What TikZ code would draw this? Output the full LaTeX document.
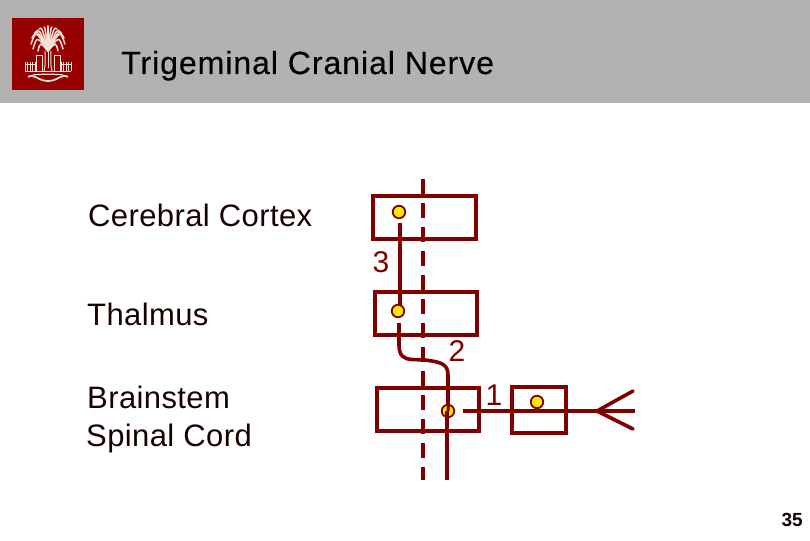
\documentclass[tikz,border=0pt]{standalone}
\usepackage{fontspec}
\setmainfont{Liberation Sans}
\newfontfamily\titlefont[LetterSpace=3,FakeBold=0.25]{Liberation Sans}
\newfontfamily\labfont[LetterSpace=1.3]{Liberation Sans}
\definecolor{garnet}{RGB}{128,0,0}
\definecolor{logored}{RGB}{150,0,0}
\definecolor{headgray}{RGB}{178,178,178}
\definecolor{logocream}{RGB}{245,225,215}
\tikzset{
  x=1pt,y=-1pt,
  cell/.style={draw=garnet,line width=4pt,fill=none,minimum size=0pt,inner sep=0pt},
  nerve/.style={draw=garnet,line width=3.6pt},
  midline/.style={draw=garnet,line width=3.8pt,dash pattern=on 15pt off 9pt},
  soma/.style={circle,draw=garnet,fill=yellow!90!orange,line width=1.8pt,minimum size=12.5pt,inner sep=0pt},
  lab/.style={font=\labfont\fontsize{31}{34}\selectfont,text=black!80!garnet,inner sep=0pt,anchor=base west},
  numlab/.style={font=\labfont\fontsize{30}{34}\selectfont,text=garnet,inner sep=0pt,anchor=base},
  logoline/.style={draw=logocream,line width=1.5pt,line cap=round},
  logothin/.style={draw=logocream,line width=1pt},
}
\begin{document}
\begin{tikzpicture}
\useasboundingbox (0,0) rectangle (810,540);
\fill[white] (0,0) rectangle (810,540);
\fill[headgray] (0,0) rectangle (810,103);
% logo
\fill[logored] (12,18) rectangle (84,90);
\foreach \ex/\ey/\cx/\cy in {31/44/36/30, 32/38/37/29, 35/33/39/28, 39/29/42/27, 44/27/45/27, 48/26/48/27, 52/27/51/27, 57/29/54/27, 61/33/57/28, 64/38/59/29, 65/44/60/30, 33/49/37/36, 63/49/59/36, 38/51/40/42, 58/51/56/42}{
  \draw[logoline] (48,51) .. controls (\cx,\cy) .. (\ex,\ey);
}
\draw[logothin] (45,51) .. controls (45,58) and (46,62) .. (44,71);
\draw[logothin] (51,51) .. controls (51,58) and (50,62) .. (52,71);
\draw[logothin] (48,52) -- (48,68);
\foreach \x in {25,27.5,30,32.5,35,61,63.5,66,68.5,71}{\draw[logothin] (\x,62) -- (\x,71);}
\draw[logothin] (25,65) -- (35,65) (61,65) -- (71,65);
\draw[logothin] (36,72) -- (36,56) -- (42,56) -- (42,72) (54,72) -- (54,56) -- (60,56) -- (60,72);
\draw[logothin] (25,71.5) -- (71,71.5);
\draw[draw=logocream,line width=1.7pt] (28,77) .. controls (34,73) and (38,81) .. (48,81) .. controls (58,81) and (62,73) .. (68,77);
\draw[draw=logocream,line width=1.2pt] (33,75) .. controls (38,74) and (58,74) .. (63,75);
% title
\node[font=\titlefont\fontsize{32}{35}\selectfont,text=black,inner sep=0pt,anchor=base west] (title) at (121,74) {Trigeminal Cranial Nerve};
% labels
\node[lab] (cc) at (88,226) {Cerebral Cortex};
\node[lab] (th) at (87,325) {Thalmus};
\node[lab] (bs) at (87,408) {Brainstem};
\node[lab] (sc) at (86,446) {Spinal Cord};
% midline
\coordinate (mt) at (423,179);
\coordinate (mb) at (423,480);
\draw[midline] (mt) -- (mb);
% boxes
\node[cell,minimum width=103pt,minimum height=43pt] (b1) at (424,217) {};
\node[cell,minimum width=102pt,minimum height=43pt] (b2) at (425.5,313.5) {};
\node[cell,minimum width=102pt,minimum height=43pt] (b3) at (427.5,409) {};
\node[cell,minimum width=54pt,minimum height=46pt] (b4) at (538.5,409.5) {};
% connector end points
\coordinate (a1) at (400,223);
\coordinate (a1e) at (400,311);
\coordinate (a2) at (399,323);
\coordinate (a3) at (448,405);
\coordinate (e1) at (447,480);
\coordinate (e1s) at (447,411);
\coordinate (f1) at (463,411);
\coordinate (f2) at (635,411);
\coordinate (tip) at (597,411);
\coordinate (t1) at (633,391);
\coordinate (t2) at (633,429);
\draw[nerve] (a1) -- (a1e);
\draw[nerve] (a2) -- (399,345) .. controls (399,356) and (404,359) .. (412,359.5) -- (425,360) .. controls (441,362) and (448,364) .. (448,375) -- (a3);
\draw[nerve] (f1) -- (f2);
\draw[nerve,line cap=round] (t1) -- (tip) -- (t2);
% somata
\node[soma] (s1) at (399,212) {};
\node[soma] (s2) at (398,311) {};
\node[soma] (s3) at (448,411) {};
\node[soma] (s4) at (537,402) {};
\draw[nerve] (e1s) -- (e1);
\draw[draw=garnet,line width=3pt] (448.5,403) -- (448,411);
% numbers
\node[numlab] (n3) at (381,272) {3};
\node[numlab] (n2) at (457,361) {2};
\node[numlab] (n1) at (494,405) {1};
% page
\node[font=\bfseries\fontsize{19}{20}\selectfont,text=black!85!garnet,inner sep=0pt,anchor=base east] (pg) at (803,526) {35};
\end{tikzpicture}
\end{document}
